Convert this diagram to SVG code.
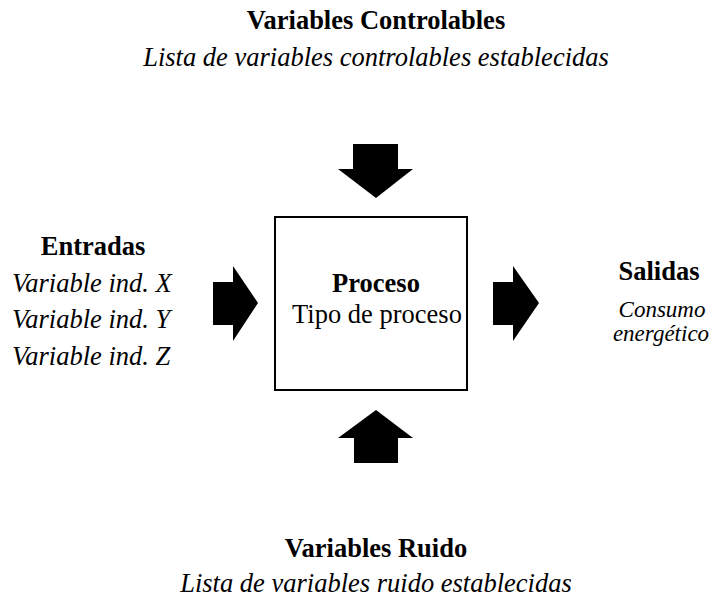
<svg xmlns="http://www.w3.org/2000/svg" width="717" height="600" viewBox="0 0 717 600">
<style>
text{font-family:"Liberation Serif","Times New Roman",serif;font-size:26.5px;fill:#000}
.b{font-weight:bold}
.i{font-style:italic}
.m{text-anchor:middle}
.s{font-size:23px}
.arrow{fill:#000}
</style>
<rect width="717" height="600" fill="#fff"/>
<g id="controlables">
<text class="b m" x="376" y="29">Variables Controlables</text>
<text class="i m" x="376" y="66">Lista de variables controlables establecidas</text>
</g>
<g id="entradas">
<text class="b m" x="93" y="255">Entradas</text>
<text class="i" x="12" y="292">Variable ind. X</text>
<text class="i" x="12" y="328">Variable ind. Y</text>
<text class="i" x="12" y="365">Variable ind. Z</text>
</g>
<g id="proceso">
<rect x="275" y="217" width="192" height="173" fill="none" stroke="#000" stroke-width="2"/>
<text class="b m" x="376" y="292">Proceso</text>
<text class="m" x="377" y="323">Tipo de proceso</text>
</g>
<g id="salidas">
<text class="b m" x="659" y="280">Salidas</text>
<text class="i m s" x="662" y="317">Consumo</text>
<text class="i m s" x="661" y="341">energético</text>
</g>
<g id="ruido">
<text class="b m" x="376" y="557">Variables Ruido</text>
<text class="i m" x="376" y="592">Lista de variables ruido establecidas</text>
</g>
<g id="connectors">
<polygon class="arrow" points="353,144 398,144 398,169 413,169 376,198 338,169 353,169"/>
<polygon class="arrow" points="354,463 398,463 398,438 413,438 376,410 338,438 354,438"/>
<polygon class="arrow" points="213,282 233,282 233,266 258,303 233,341 233,325 213,325"/>
<polygon class="arrow" points="493,282 513,282 513,266 539,303 513,341 513,325 493,325"/>
</g>
</svg>
